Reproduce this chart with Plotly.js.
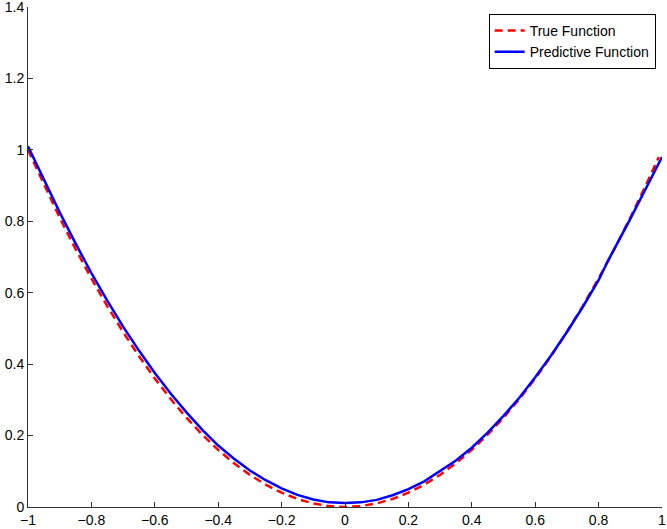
<!DOCTYPE html>
<html>
<head>
<meta charset="utf-8">
<script src="https://cdn.plot.ly/plotly-3.0.1.min.js"></script>
<style>html,body{margin:0;padding:0;background:#fff;}#chart{width:667px;height:529px;}</style>
</head>
<body>
<div id="chart"></div>
<script>
// True function samples
const trueX = [-1, -0.95, -0.9, -0.85, -0.8, -0.75, -0.7, -0.65, -0.6, -0.55, -0.5, -0.45, -0.4, -0.35, -0.3, -0.25, -0.2, -0.15, -0.1, -0.05, 0, 0.05, 0.1, 0.15, 0.2, 0.25, 0.3, 0.35, 0.4, 0.45, 0.5, 0.55, 0.6, 0.65, 0.7, 0.75, 0.8, 0.85, 0.9, 0.95, 0.99];
const trueY = [1.0, 0.9025, 0.81, 0.7225, 0.64, 0.5625, 0.49, 0.4225, 0.36, 0.3025, 0.25, 0.2025, 0.16, 0.1225, 0.09, 0.0625, 0.04, 0.0225, 0.01, 0.0025, 0.0, 0.0025, 0.01, 0.0225, 0.04, 0.0625, 0.09, 0.1225, 0.16, 0.2025, 0.25, 0.3025, 0.36, 0.4225, 0.49, 0.5625, 0.64, 0.7225, 0.81, 0.9025, 0.98];
// Predictive function samples
const predX = [-1, -0.95, -0.9, -0.85, -0.8, -0.75, -0.7, -0.65, -0.6, -0.55, -0.5, -0.45, -0.4, -0.35, -0.3, -0.25, -0.2, -0.15, -0.1, -0.05, 0, 0.05, 0.1, 0.15, 0.2, 0.25, 0.3, 0.35, 0.4, 0.45, 0.5, 0.55, 0.6, 0.65, 0.7, 0.75, 0.8, 0.83, 0.9, 0.95, 1];
const predY = [1.01, 0.915, 0.825, 0.738, 0.655, 0.578, 0.505, 0.438, 0.375, 0.318, 0.265, 0.216, 0.172, 0.135, 0.102, 0.075, 0.052, 0.034, 0.021, 0.013, 0.011, 0.013, 0.02, 0.033, 0.05, 0.072, 0.1, 0.13, 0.166, 0.208, 0.255, 0.306, 0.363, 0.424, 0.49, 0.56, 0.635, 0.69, 0.807, 0.893, 0.98];
const xTicks = [-1, -0.8, -0.6, -0.4, -0.2, 0, 0.2, 0.4, 0.6, 0.8, 1];
const yTicks = [0, 0.2, 0.4, 0.6, 0.8, 1, 1.2, 1.4];

const traces = [
  {x: trueX, y: trueY, mode: 'lines', name: 'True Function', line: {color: '#ff0000', width: 2.5, dash: '8px,5px'}},
  {x: predX, y: predY, mode: 'lines', name: 'Predictive Function', line: {color: '#0000ff', width: 2.5}}
];
const fontFam = 'Liberation Sans, Arial, Helvetica, sans-serif';
const axisCommon = {showline: true, linecolor: '#333', linewidth: 1, ticks: 'inside', ticklen: 5, tickcolor: '#333', showgrid: false, zeroline: false, mirror: false, automargin: false, ticklabeloverflow: 'allow', tickfont: {family: fontFam, size: 14, color: '#000'}};
const layout = {
  width: 667, height: 529,
  margin: {l: 28, r: 5, t: 7, b: 22},
  paper_bgcolor: '#fff', plot_bgcolor: '#fff',
  xaxis: Object.assign({}, axisCommon, {range: [-1, 1], tickvals: xTicks, ticktext: xTicks.map(v => String(v).replace('-', '\u2212'))}),
  yaxis: Object.assign({}, axisCommon, {range: [0, 1.4], tickvals: yTicks, ticktext: yTicks.map(String)}),
  showlegend: true,
  legend: {x: 0.99, xanchor: 'right', y: 0.986, yanchor: 'top', bordercolor: '#000', borderwidth: 1, bgcolor: '#fff', font: {family: fontFam, size: 14, color: '#000'}, tracegroupgap: 0}
};
Plotly.newPlot('chart', traces, layout, {displayModeBar: false, staticPlot: true});
</script>
</body>
</html>
